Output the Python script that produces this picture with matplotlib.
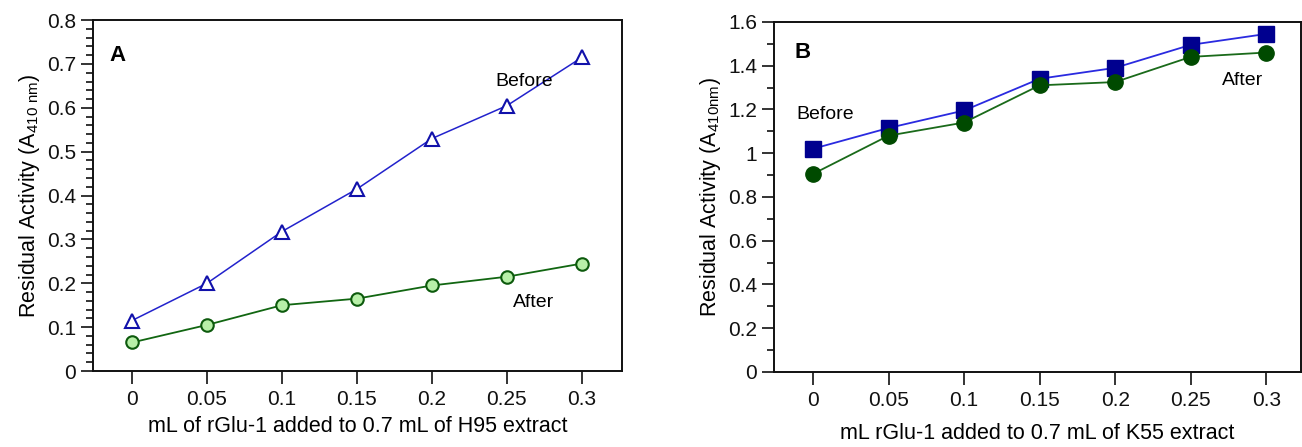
import matplotlib
matplotlib.use("Agg")
import matplotlib.pyplot as plt
from matplotlib.ticker import MultipleLocator

plt.rcParams['font.family'] = ['Liberation Sans Narrow', 'Liberation Sans', 'DejaVu Sans']

x_vals = [0, 0.05, 0.1, 0.15, 0.2, 0.25, 0.3]
x_labels = ['0', '0.05', '0.1', '0.15', '0.2', '0.25', '0.3']

a_before = [0.115, 0.200, 0.318, 0.415, 0.530, 0.605, 0.715]
a_after = [0.065, 0.105, 0.150, 0.165, 0.195, 0.215, 0.245]

b_before = [1.020, 1.115, 1.195, 1.340, 1.390, 1.495, 1.545]
b_after = [0.905, 1.080, 1.140, 1.310, 1.325, 1.440, 1.460]

a_yticks = [0, 0.1, 0.2, 0.3, 0.4, 0.5, 0.6, 0.7, 0.8]
a_yticklabels = ['0', '0.1', '0.2', '0.3', '0.4', '0.5', '0.6', '0.7', '0.8']
b_yticks = [0, 0.2, 0.4, 0.6, 0.8, 1.0, 1.2, 1.4, 1.6]
b_yticklabels = ['0', '0.2', '0.4', '0.6', '0.8', '1', '1.2', '1.4', '1.6']

fig = plt.figure(figsize=(13.02, 4.47), dpi=100)
axA = fig.add_axes([0.0714, 0.170, 0.4063, 0.785])
axB = fig.add_axes([0.5945, 0.168, 0.4047, 0.783])

TICK_FS = 15
LABEL_FS = 15.5

def style(ax, yticks, yticklabels, ylim, minor):
    for s in ax.spines.values():
        s.set_linewidth(1.4)
        s.set_color('#111111')
    ax.set_xticks(x_vals)
    ax.set_xticklabels(x_labels, fontsize=TICK_FS)
    ax.set_yticks(yticks)
    ax.set_yticklabels(yticklabels, fontsize=TICK_FS)
    ax.yaxis.set_minor_locator(MultipleLocator(minor))
    ax.set_ylim(*ylim)
    ax.tick_params(axis='both', which='major', direction='out', length=9, width=1.2, colors='#111111', pad=3)
    ax.tick_params(axis='y', which='minor', direction='out', length=5, width=1.2, colors='#111111')
    ax.tick_params(axis='x', which='major', pad=5)

# Panel A
axA.plot(x_vals, a_before, color='#2222cc', lw=1.1, marker='^', ms=10,
         mfc='white', mec='#1111aa', mew=1.5, zorder=3)
axA.plot(x_vals, a_after, color='#116611', lw=1.3, marker='o', ms=9,
         mfc='#b8f0a8', mec='#0d5a0d', mew=1.5, zorder=3)
axA.set_xlim(-0.026, 0.3267)
style(axA, a_yticks, a_yticklabels, (0, 0.8), 0.02)
axA.set_xlabel('mL of rGlu-1 added to 0.7 mL of H95 extract', fontsize=LABEL_FS, labelpad=5)
axA.set_ylabel('Residual Activity ($\\mathregular{A_{410\\ nm}}$)', fontsize=LABEL_FS, labelpad=4)
axA.text(-0.015, 0.72, 'A', fontsize=16, fontweight='bold', va='center', ha='left')
axA.text(0.242, 0.66, 'Before', fontsize=14, va='center', ha='left')
axA.text(0.254, 0.157, 'After', fontsize=14, va='center', ha='left')

# Panel B
axB.plot(x_vals, b_before, color='#2a2ae0', lw=1.3, marker='s', ms=11,
         mfc='#00008f', mec='#00008f', zorder=3)
axB.plot(x_vals, b_after, color='#1a6a1a', lw=1.3, marker='o', ms=11,
         mfc='#004a00', mec='#004a00', zorder=3)
axB.set_xlim(-0.0258, 0.323)
style(axB, b_yticks, b_yticklabels, (0, 1.6), 0.1)
axB.set_xlabel('mL rGlu-1 added to 0.7 mL of K55 extract', fontsize=LABEL_FS, labelpad=9)
axB.set_ylabel('Residual Activity ($\\mathregular{A_{410nm}}$)', fontsize=LABEL_FS, labelpad=4)
axB.text(-0.012, 1.46, 'B', fontsize=16, fontweight='bold', va='center', ha='left')
axB.text(-0.011, 1.175, 'Before', fontsize=14, va='center', ha='left')
axB.text(0.271, 1.33, 'After', fontsize=14, va='center', ha='left')

fig.savefig('out.png', dpi=100)
